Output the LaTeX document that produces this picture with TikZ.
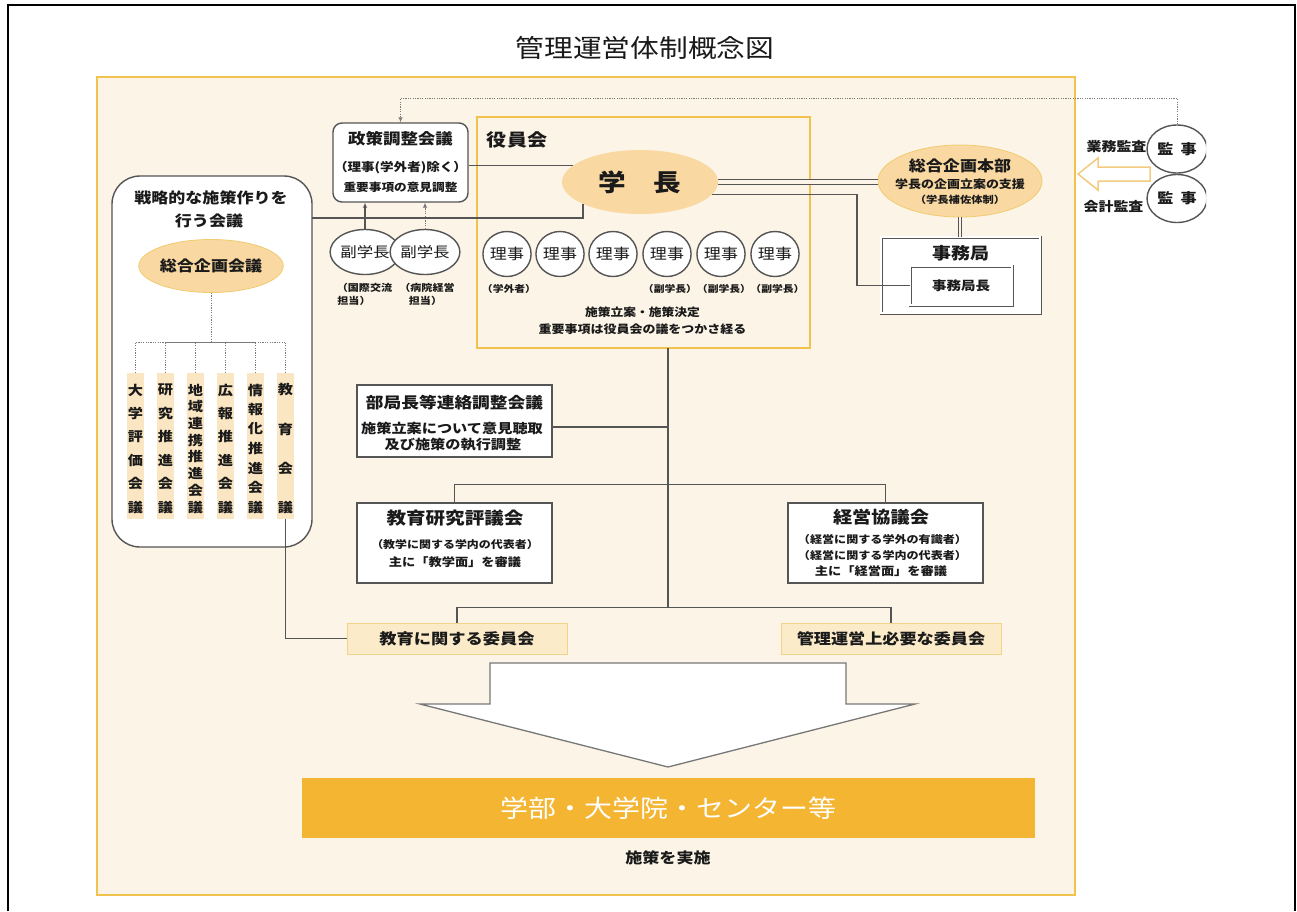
\documentclass[tikz,border=0pt]{standalone}
\usepackage{fontspec}
\setmainfont{Noto Sans CJK JP}[FakeStretch=1.15]
\usetikzlibrary{arrows.meta,calc,shapes.geometric}
\definecolor{cream}{HTML}{FCF4E6}
\definecolor{gold}{HTML}{F1C24E}
\definecolor{ell}{HTML}{F9D9A1}
\definecolor{ellb}{HTML}{EFCB70}
\definecolor{strip}{HTML}{FBE6C3}
\definecolor{cbox}{HTML}{FCEBC8}
\definecolor{cboxb}{HTML}{F1D48A}
\definecolor{barc}{HTML}{F4B533}
\definecolor{ln}{HTML}{555555}
\definecolor{dotc}{HTML}{7A7A7A}
\definecolor{harrow}{HTML}{F3CB7E}
\definecolor{txt}{HTML}{1A1A1A}
\newcommand{\F}[1]{\fontsize{#1}{#1}\selectfont}
\newcommand{\vcol}[4]{%
  \foreach \c [count=\i] in {#4} {\node[fb=13.2] (#3-\i) at (#1,{390+(\i-1)*117/(#2-1)}) {\c};}}
\begin{document}
\begin{tikzpicture}[x=1pt,y=-1pt,
  every node/.style={text=txt, inner sep=0pt},
  fb/.style={font=\bfseries\F{#1}},
  fr/.style={font=\F{#1}},
  conn/.style={draw=ln, line width=1.4pt},
  dotl/.style={draw=dotc, line width=0.9pt, dash pattern=on 1.2pt off 1.2pt},
  wbox/.style={draw=ln, line width=1.4pt, fill=white, rectangle},
  circ/.style={ellipse, draw=ln, line width=1.4pt, fill=white},
  ellnode/.style={ellipse, fill=ell, draw=ellb, line width=0.8pt},
  dbox/.style={rectangle, draw=ln, line width=0.8pt, double=white, double distance=1.4pt, fill=white},
  stripnode/.style={rectangle, fill=strip, minimum width=17pt, minimum height=146pt},
  cboxnode/.style={rectangle, fill=cbox, draw=cboxb, line width=1pt, minimum width=220pt, minimum height=31pt},
  tipa/.style={-{Latex[length=5pt,width=4.5pt]}}
]
\useasboundingbox (0,0) rectangle (1297,911);
\fill[white] (0,0) rectangle (1297,911);
\draw[line width=2pt] (7.5,911) -- (7.5,5) -- (1294.5,5) -- (1294.5,911);

% title
\node[fr=25] (title) at (645,48) {管理運営体制概念図};

% main frame
\draw[fill=cream, draw=gold, line width=2.5pt] (97,77) rectangle (1075,895);

% 役員会
\node[rectangle, draw=gold, line width=2.5pt, minimum width=333pt, minimum height=231pt] (yakuin) at (643.5,232.5) {};
\node[fb=17.4] (yakuinT) at (517,140) {役員会};
\node[ellipse, fill=ell, minimum width=156pt, minimum height=64pt, fb=24] (gakucho) at (640,182) {学　長};
\foreach \x/\n in {507/1,560/2,613/3,667/4,721/5,775/6} {
  \node[circ, minimum width=48pt, minimum height=45pt, fr=14.8] (riji\n) at (\x,254) {理事};
}
\node[fb=9.4] (gakugai) at (509,289) {（学外者）};
\node[fb=9.4] (fk4) at (670,289) {（副学長）};
\node[fb=9.4] (fk5) at (724,289) {（副学長）};
\node[fb=9.4] (fk6) at (777.5,289) {（副学長）};
\node[fb=11.1] (sesaku1) at (642.5,312) {施策立案・施策決定};
\node[fb=11.3] (sesaku2) at (642.5,329) {重要事項は役員会の議をつかさ経る};

% 政策調整会議
\node[wbox, rounded corners=9pt, minimum width=135pt, minimum height=79pt] (seisaku) at (400.5,162.5) {};
\node[fb=15.2] (seisakuT) at (400.5,139) {政策調整会議};
\node[fb=11.8] (seisakuA) at (400.5,168) {（理事(学外者)除く）};
\node[fb=11] (seisakuB) at (400.5,187) {重要事項の意見調整};

% 副学長
\node[circ, minimum width=60pt, minimum height=45pt, fr=14.3] (fuku1) at (365,252) {副学長};
\node[circ, minimum width=60pt, minimum height=45pt, fr=14.3] (fuku2) at (425,252) {副学長};
\node[fb=9.6] (fuku1a) at (364.5,288) {（国際交流};
\node[fb=9.6] (fuku1b) at (354,301) {担当）};
\node[fb=9.6] (fuku2a) at (427,288) {（病院経営};
\node[fb=9.6] (fuku2b) at (425.5,301) {担当）};

% 戦略的な施策作りを行う会議
\node[wbox, rounded corners=28pt, minimum width=200pt, minimum height=371pt] (senryaku) at (212,361.5) {};
\node[fb=14.8] (senryakuT1) at (211,198) {戦略的な施策作りを};
\node[fb=14.8] (senryakuT2) at (209,221) {行う会議};
\node[ellnode, minimum width=142pt, minimum height=53pt, fb=14.8] (sogokaigi) at (211,266) {総合企画会議};
\node[stripnode] (c1) at (135.5,446) {};
\node[stripnode] (c2) at (165.5,446) {};
\node[stripnode] (c3) at (195.5,446) {};
\node[stripnode] (c4) at (225.5,446) {};
\node[stripnode] (c5) at (255.5,446) {};
\node[stripnode] (c6) at (285.5,446) {};
\vcol{135.5}{6}{k1}{大,学,評,価,会,議}
\vcol{165.5}{6}{k2}{研,究,推,進,会,議}
\vcol{195.5}{8}{k3}{地,域,連,携,推,進,会,議}
\vcol{225.5}{6}{k4}{広,報,推,進,会,議}
\vcol{255.5}{7}{k5}{情,報,化,推,進,会,議}
\vcol{285.5}{4}{k6}{教,育,会,議}
\coordinate (hub) at (211,342);
\draw[dotl] (sogokaigi.south) -- (hub);
\foreach \n in {1,...,6} { \draw[dotl] (c\n.north) |- (hub); }

% 総合企画本部 / 事務局
\node[ellnode, minimum width=164pt, minimum height=72pt] (honbu) at (960,181) {};
\node[fb=14.8] (honbuT) at (960,166) {総合企画本部};
\node[fb=11.3] (honbuA) at (960,184) {学長の企画立案の支援};
\node[fb=9.8] (honbuB) at (960,200) {（学長補佐体制）};
\node[dbox, minimum width=159pt, minimum height=76pt] (jimu) at (960.5,275) {};
\node[fb=16.5] (jimuT) at (960.5,253) {事務局};
\node[dbox, minimum width=102pt, minimum height=39pt, fb=12.6] (kyokucho) at (961,285.5) {事務局長};

% 監事
\begin{scope}
\clip (1100,110) rectangle (1206,240);
\node[circ, minimum width=60pt, minimum height=48pt, fb=14] (kanji1) at (1177,149) {監\hspace{7pt}事};
\node[circ, minimum width=60pt, minimum height=48pt, fb=14] (kanji2) at (1177,198.5) {監\hspace{7pt}事};
\end{scope}
\node[fb=13] (gyomu) at (1116.5,147) {業務監査};
\node[fb=13] (kaikei) at (1113.5,207) {会計監査};
\draw[draw=harrow, fill=white, line width=1.5pt, line join=miter]
  (1078,174) -- (1098,158) -- (1098,167) -- (1150,167) -- (1150,181) -- (1098,181) -- (1098,190) -- cycle;

% 中段
\node[wbox, minimum width=195pt, minimum height=72pt] (bukyoku) at (454.5,421) {};
\node[fb=15.4] (bukyokuT) at (454.5,403) {部局長等連絡調整会議};
\node[fb=13.2] (bukyokuA) at (452,428) {施策立案について意見聴取};
\node[fb=13.2] (bukyokuB) at (453,445) {及び施策の執行調整};

\node[wbox, minimum width=195pt, minimum height=80pt] (kyoiku) at (454.5,543) {};
\node[fb=17] (kyoikuT) at (455,518) {教育研究評議会};
\node[fb=10.4] (kyoikuA) at (455,545) {（教学に関する学内の代表者）};
\node[fb=11.5] (kyoikuB) at (455,562) {主に「教学面」を審議};

\node[wbox, minimum width=195pt, minimum height=80pt] (keiei) at (885.5,543) {};
\node[fb=16.7] (keieiT) at (881,517) {経営協議会};
\node[fb=10.5] (keieiA) at (882.5,539) {（経営に関する学外の有識者）};
\node[fb=10.5] (keieiB) at (882.5,555) {（経営に関する学内の代表者）};
\node[fb=11.5] (keieiC) at (881,571) {主に「経営面」を審議};

\node[cboxnode, fb=15] (iin1) at (457,638.5) {教育に関する委員会};
\node[cboxnode, fb=14.9] (iin2) at (891,638.5) {管理運営上必要な委員会};

% big arrow
\draw[draw=ln!80, fill=white, line width=1.3pt, line join=miter]
  (490,663) -- (846,663) -- (846,704) -- (915,704) -- (668,767) -- (420,704) -- (490,704) -- cycle;
\node[rectangle, fill=barc, minimum width=733pt, minimum height=60pt, fr=24.3, text=white] (bar) at (668.5,808) {学部・大学院・センター等};
\node[fb=14.8] (jisshi) at (668,858) {施策を実施};

% connectors
\coordinate (dy) at (0,98);
\draw[dotl, tipa] (kanji1.north) |- (seisaku.north |- dy) -- (seisaku.north);
\draw[conn, tipa] (fuku1.north) -- (fuku1.north |- seisaku.south);
\draw[dotl, tipa] (fuku2.north) -- (fuku2.north |- seisaku.south);
\draw[conn] (seisaku.east |- gakucho.166) -- (gakucho.166);
\coordinate (sj) at (312,218);
\draw[conn] (gakucho.201) |- (sj);
\draw[draw=ln, line width=1.1pt, double=cream, double distance=3.4pt] (gakucho.east) -- (gakucho.east -| honbu.west);
\draw[draw=ln, line width=1.1pt, double=cream, double distance=2.2pt] (honbu.south) -- (honbu.south |- jimu.north);
\coordinate (jx) at (857,0);
\draw[conn] (gakucho.-10) -| (jx |- kyokucho.west) -- (kyokucho.west);

\coordinate (tA) at (668,348);
\coordinate (tC) at (668,608);
\draw[conn] (tA) -- (tC);
\coordinate (bk) at ($(bukyoku.east)+(0,6)$);
\draw[conn] (bk) -- (bk -| tA);
\draw[conn] (kyoiku.north) -- ++(0,-18) -| (keiei.north);
\draw[conn] (iin1.north) -- ++(0,-15) -| (iin2.north);
\draw[conn] (c6.south) |- (iin1.west);
\end{tikzpicture}
\end{document}
